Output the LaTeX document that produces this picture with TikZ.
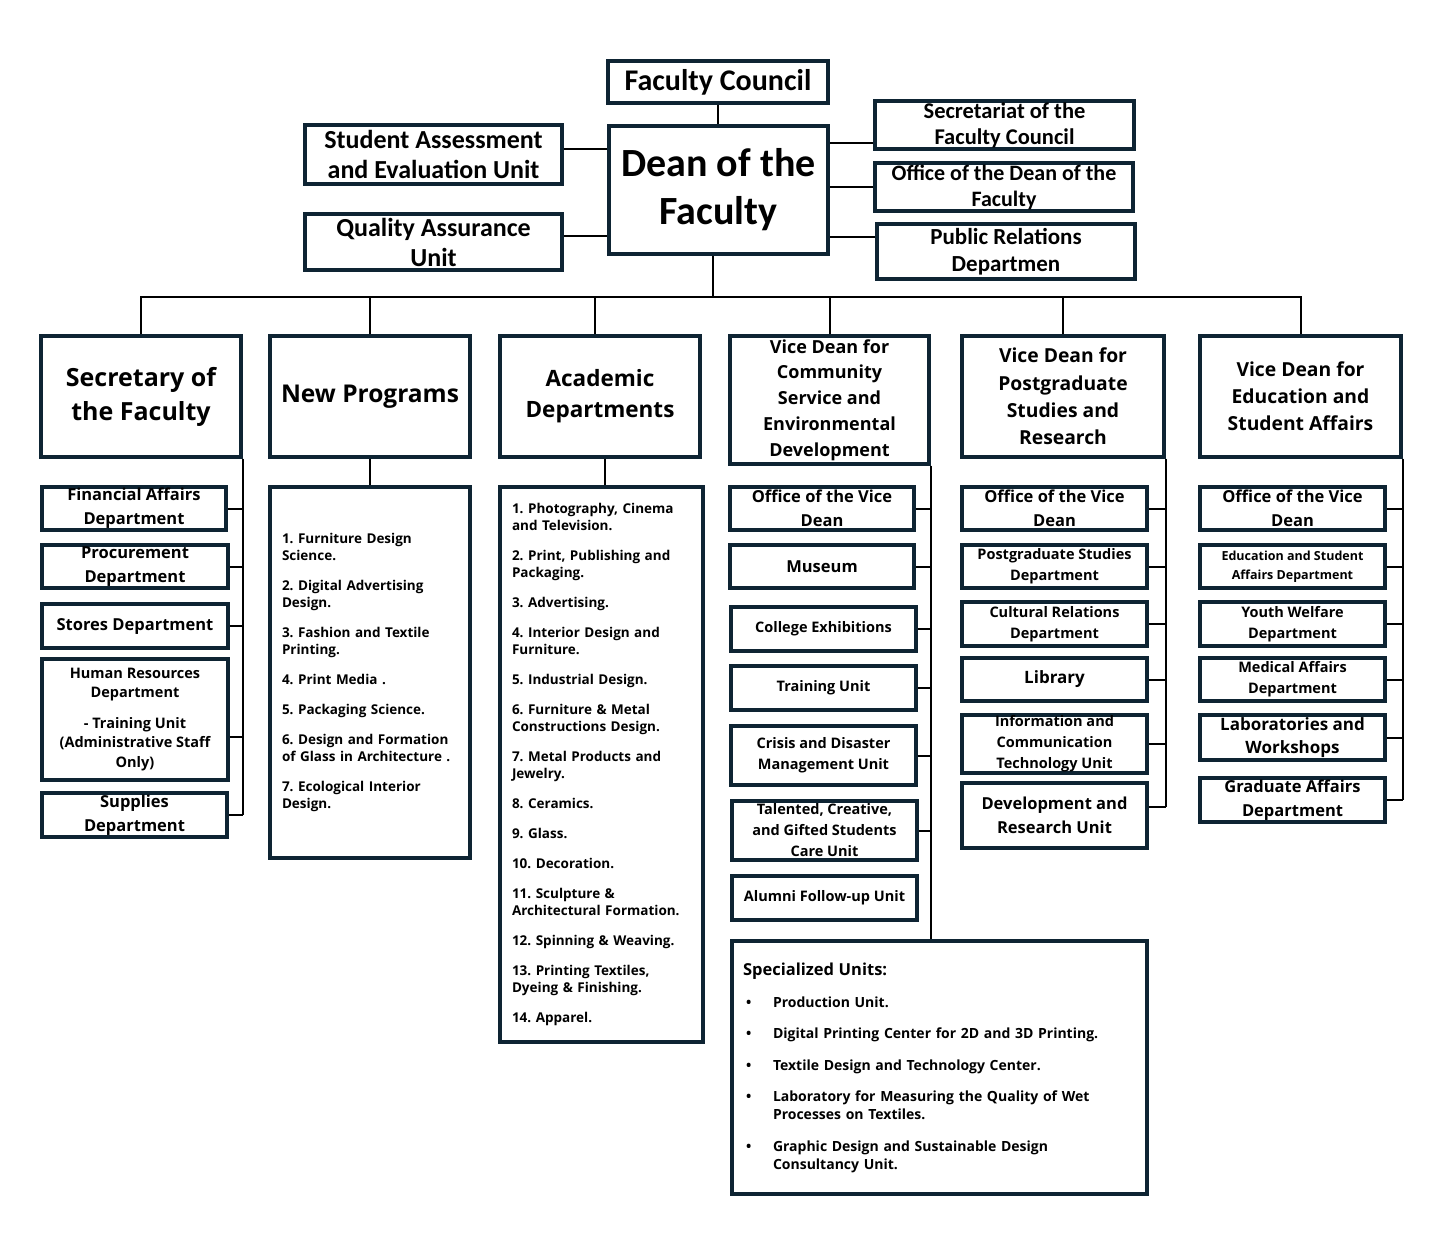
\documentclass[tikz,border=0pt]{standalone}
\usepackage{fontspec}
\setmainfont{Open Sans}
\newfontfamily\carl{Carlito}
\frenchspacing
\definecolor{navy}{HTML}{0E2433}
\newcommand\mybox[7]{%
  \pgfmathsetmacro\mbx{(#2+#4)/2}%
  \pgfmathsetmacro\mby{(#3+#5)/2}%
  \pgfmathsetmacro\mbw{#4-#2}%
  \pgfmathsetmacro\mbh{#5-#3}%
  \node[box,#6,minimum width=\mbw pt,minimum height=\mbh pt] (#1) at (\mbx,\mby) {#7};}
\begin{document}
\begin{tikzpicture}[x=1pt,y=-1pt,
  box/.style={draw=navy,line width=3.2pt,inner sep=0pt,align=center,fill=white,text=black},
  of/.style 2 args={font=\frenchspacing\fontsize{#1}{#2}\selectfont\bfseries},
  cf/.style 2 args={font=\carl\fontsize{#1}{#2}\selectfont\bfseries},
  lst/.style={align=left,text width=#1,font=\frenchspacing\fontsize{13.5}{17}\selectfont\bfseries},
  conn/.style={line width=2pt,black}]
\useasboundingbox (0,0) rectangle (1440,1248);

% top group
\mybox{fc}{608}{61}{828}{103}{cf={30}{34}}{Faculty Council}
\mybox{dean}{609}{126}{828}{254}{cf={40}{48}}{Dean of the\\Faculty}
\mybox{sae}{305}{125}{562}{184}{cf={26}{30}}{Student Assessment\\and Evaluation Unit}
\mybox{qa}{305}{214}{562}{270}{cf={26}{30}}{Quality Assurance\\Unit}
\mybox{sfc}{875}{101}{1134}{149}{cf={22.5}{26}}{Secretariat of the\\Faculty Council}
\mybox{odf}{875}{163}{1133}{211}{cf={22}{26}}{Office of the Dean of the\\Faculty}
\mybox{pr}{877}{224}{1135}{279}{cf={23}{27}}{Public Relations\\Departmen}

% second level
\mybox{sec}{41}{336}{241}{457}{of={25}{34}}{Secretary of\\the Faculty}
\mybox{np}{270}{336}{470}{457}{of={24.5}{34}}{New Programs}
\mybox{acad}{500}{336}{700}{457}{of={22.5}{31}}{Academic\\Departments}
\mybox{vdc}{730}{336}{929}{464}{of={18}{25.8}}{Vice Dean for\\Community\\Service and\\Environmental\\Development}
\mybox{vdp}{962}{336}{1164}{457}{of={19.3}{27.3}}{Vice Dean for\\Postgraduate\\Studies and\\Research}
\mybox{vde}{1200}{336}{1401}{457}{of={19.3}{27}}{Vice Dean for\\Education and\\Student Affairs}

% secretary column
\mybox{fa}{42}{487}{226}{530}{of={16.5}{24}}{Financial Affairs\\Department}
\mybox{proc}{42}{545}{228}{588}{of={16.5}{24}}{Procurement\\Department}
\mybox{sto}{42}{604}{228}{648}{of={16.5}{20}}{Stores Department}
\mybox{hr}{42}{659}{228}{780}{of={14.5}{19.5}}{Human Resources\\Department\\[11pt]- Training Unit\\(Administrative Staff\\Only)}
\mybox{sup}{42}{793}{227}{837}{of={16.5}{24}}{Supplies\\Department}

% new programs list
\mybox{npl}{270}{487}{470}{858}{lst=176pt}{1. Furniture Design\\Science.\\[13pt]2. Digital Advertising\\Design.\\[13pt]3. Fashion and Textile\\Printing.\\[13pt]4. Print Media .\\[13pt]5. Packaging Science.\\[13pt]6. Design and Formation\\of Glass in Architecture .\\[13pt]7. Ecological Interior\\Design.}

% academic list
\mybox{acl}{500}{487}{703}{1042}{lst=179pt}{1. Photography, Cinema\\and Television.\\[13pt]2. Print, Publishing and\\Packaging.\\[13pt]3. Advertising.\\[13pt]4. Interior Design and\\Furniture.\\[13pt]5. Industrial Design.\\[13pt]6. Furniture \& Metal\\Constructions Design.\\[13pt]7. Metal Products and\\Jewelry.\\[13pt]8. Ceramics.\\[13pt]9. Glass.\\[13pt]10. Decoration.\\[13pt]11. Sculpture \&\\Architectural Formation.\\[13pt]12. Spinning \& Weaving.\\[13pt]13. Printing Textiles,\\Dyeing \& Finishing.\\[13pt]14. Apparel.}

% vice dean community column
\mybox{ovda}{730}{487}{914}{530}{of={16.5}{24}}{Office of the Vice\\Dean}
\mybox{mus}{730}{545}{914}{588}{of={16.5}{20}}{Museum}
\mybox{cex}{731}{607}{916}{651}{of={14.5}{18}}{College Exhibitions}
\mybox{tru}{731}{666}{916}{710}{of={14.5}{18}}{Training Unit}
\mybox{cri}{731}{726}{916}{785}{of={14.5}{21}}{Crisis and Disaster\\Management Unit}
\mybox{tal}{732}{801}{917}{860}{of={14.5}{21}}{Talented, Creative,\\and Gifted Students\\Care Unit}
\mybox{alu}{732}{876}{917}{920}{of={14.5}{18}}{Alumni Follow-up Unit}
\mybox{spec}{732}{941}{1147}{1194}{align=left,text width=393pt,font=\frenchspacing\fontsize{14}{18}\selectfont\bfseries}{{\fontsize{16.5}{18}\selectfont Specialized Units:}\\[14pt]%
\makebox[30pt][l]{\hspace{3pt}\textbullet}Production Unit.\\[13.5pt]%
\makebox[30pt][l]{\hspace{3pt}\textbullet}Digital Printing Center for 2D and 3D Printing.\\[13.5pt]%
\makebox[30pt][l]{\hspace{3pt}\textbullet}Textile Design and Technology Center.\\[13.5pt]%
\makebox[30pt][l]{\hspace{3pt}\textbullet}Laboratory for Measuring the Quality of Wet\\\hspace*{30pt}Processes on Textiles.\\[13.5pt]%
\makebox[30pt][l]{\hspace{3pt}\textbullet}Graphic Design and Sustainable Design\\\hspace*{30pt}Consultancy Unit.}

% vice dean postgraduate column
\mybox{ovdb}{962}{487}{1147}{530}{of={16.5}{24}}{Office of the Vice\\Dean}
\mybox{pgs}{962}{545}{1147}{588}{of={14.5}{21}}{Postgraduate Studies\\Department}
\mybox{cul}{962}{602}{1147}{646}{of={14.5}{21}}{Cultural Relations\\Department}
\mybox{lib}{962}{658}{1147}{701}{of={17}{20}}{Library}
\mybox{ict}{962}{715}{1147}{773}{of={14.5}{21}}{Information and\\Communication\\Technology Unit}
\mybox{dev}{962}{783}{1147}{848}{of={16.5}{24}}{Development and\\Research Unit}

% vice dean education column
\mybox{ovdc}{1200}{487}{1385}{530}{of={16.5}{24}}{Office of the Vice\\Dean}
\mybox{esa}{1200}{545}{1385}{588}{of={12.5}{19}}{Education and Student\\Affairs Department}
\mybox{yw}{1200}{602}{1385}{646}{of={14.5}{21}}{Youth Welfare\\Department}
\mybox{med}{1200}{658}{1385}{701}{of={14.5}{21}}{Medical Affairs\\Department}
\mybox{lab}{1200}{715}{1385}{760}{of={17}{23}}{Laboratories and\\Workshops}
\mybox{gra}{1200}{778}{1385}{822}{of={16.5}{24}}{Graduate Affairs\\Department}

% connectors top
\coordinate (bus) at (713,297);
\draw[conn] (fc.south) -- (fc.south |- dean.north);
\draw[conn] ([yshift=6pt]sae.east) -- ([yshift=6pt]sae.east -| dean.west);
\draw[conn] ([yshift=6pt]qa.east) -- ([yshift=6pt]qa.east -| dean.west);
\draw[conn] ([yshift=-18pt]sfc.west) -- ([yshift=-18pt]sfc.west -| dean.east);
\draw[conn] (odf.west) -- (odf.west -| dean.east);
\draw[conn] ([yshift=15pt]pr.west) -- ([yshift=15pt]pr.west -| dean.east);
\draw[conn] (dean.south -| bus) -- (bus);
\draw[conn] (sec.north) -- (sec.north |- bus) -- (vde.north |- bus) -- (vde.north);
\draw[conn] (np.north) -- (np.north |- bus);
\draw[conn] ([xshift=-5pt]acad.north) -- ([xshift=-5pt]acad.north |- bus);
\draw[conn] (vdc.north) -- (vdc.north |- bus);
\draw[conn] (vdp.north) -- (vdp.north |- bus);
\draw[conn] (np.south) -- (npl.north);
\draw[conn] ([xshift=5pt]acad.south) -- ([xshift=5pt]acad.south |- acl.north);

% secretary column
\draw[conn] (sec.south east) -- (sec.east |- sup.east);
\foreach \n in {fa,proc,sto,sup} \draw[conn] (\n.east) -- (\n.east -| sec.east);
\draw[conn] ([yshift=-17pt]hr.east) -- ([yshift=-17pt]hr.east -| sec.east);

% community column
\draw[conn] (vdc.south east) -- (vdc.east |- spec.north);
\foreach \n in {ovda,mus,cex,tru,cri,tal} \draw[conn] (\n.east) -- (\n.east -| vdc.east);

% postgraduate column
\draw[conn] (vdp.south east) -- ([yshift=9pt]vdp.east |- dev.east);
\foreach \n in {ovdb,pgs,cul,lib,ict} \draw[conn] (\n.east) -- (\n.east -| vdp.east);
\draw[conn] ([yshift=9pt]dev.east) -- ([yshift=9pt]dev.east -| vdp.east);

% education column
\draw[conn] (vde.south east) -- (vde.east |- gra.east);
\foreach \n in {ovdc,esa,yw,med,lab,gra} \draw[conn] (\n.east) -- (\n.east -| vde.east);
\end{tikzpicture}
\end{document}
